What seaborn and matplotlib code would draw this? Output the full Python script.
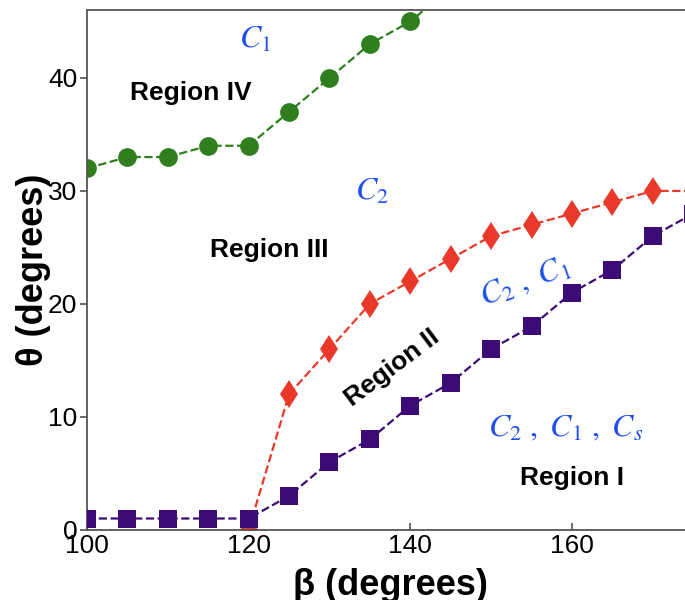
import matplotlib
matplotlib.use("Agg")
import matplotlib.pyplot as plt
import seaborn as sns
import pandas as pd

# Phase-boundary data: theta (degrees) vs beta (degrees)
beta_green = [100, 105, 110, 115, 120, 125, 130, 135, 140, 145]
theta_green = [32, 33, 33, 34, 34, 37, 40, 43, 45, 48]

beta_red = [120, 125, 130, 135, 140, 145, 150, 155, 160, 165, 170, 175]
theta_red = [0, 12, 16, 20, 22, 24, 26, 27, 28, 29, 30, 30]

beta_purple = [100, 105, 110, 115, 120, 125, 130, 135, 140, 145, 150, 155, 160, 165, 170, 175]
theta_purple = [1, 1, 1, 1, 1, 3, 6, 8, 11, 13, 16, 18, 21, 23, 26, 28]

x_ticks = [100, 120, 140, 160]
y_ticks = [0, 10, 20, 30, 40]

sns.set_theme(style="white")
plt.rcParams["font.family"] = ["Liberation Sans", "DejaVu Sans"]
plt.rcParams["mathtext.fontset"] = "stix"

fig = plt.figure(figsize=(6.85, 6.0), dpi=100)
ax = fig.add_axes([0.127, 0.117, 0.885, 0.866])

df_g = pd.DataFrame({"beta": beta_green, "theta": theta_green})
df_r = pd.DataFrame({"beta": beta_red, "theta": theta_red})
df_p = pd.DataFrame({"beta": beta_purple, "theta": theta_purple})

green = "#2f7f1f"
red = "#e8392b"
purple = "#3d0b78"

sns.lineplot(data=df_g, x="beta", y="theta", ax=ax, color=green, linestyle="--",
             linewidth=1.6, marker="o", markersize=13.5, markeredgewidth=0)
sns.lineplot(data=df_p, x="beta", y="theta", ax=ax, color=purple, linestyle="--",
             linewidth=1.6, marker="s", markersize=12.5, markeredgewidth=0)
sns.lineplot(data=df_r, x="beta", y="theta", ax=ax, color=red, linestyle="--",
             linewidth=1.6, marker="d", markersize=14.5, markeredgewidth=0)
# keep the purple plateau square on top of the red start point
ax.lines[-1].set_zorder(2)
ax.lines[1].set_zorder(3)

ax.set_xlim(100, 175)
ax.set_ylim(0, 46)
ax.set_xticks(x_ticks)
ax.set_yticks(y_ticks)
ax.tick_params(axis="both", which="major", labelsize=19, length=5, width=1.1,
               color="#444444", labelcolor="black", left=True, bottom=True)
ax.tick_params(axis="x", direction="in", pad=3)
ax.tick_params(axis="y", direction="out", pad=2)

for side, sp in ax.spines.items():
    sp.set_color("#555555")
    sp.set_linewidth(1.3)
ax.spines["right"].set_visible(False)

ax.set_xlabel("β (degrees)", fontsize=26, fontweight="bold", color="black", labelpad=7)
ax.set_ylabel("θ (degrees)", fontsize=26, fontweight="bold", color="black", labelpad=-2)

region_kw = dict(fontsize=19, fontweight="bold", color="black", ha="center", va="center")
ax.text(112.9, 38.7, "Region IV", **region_kw)
ax.text(122.5, 24.8, "Region III", **region_kw)
ax.text(137.7, 14.3, "Region II", rotation=37, **region_kw)
ax.text(160.0, 4.6, "Region I", **region_kw)

blue = "#1f4fe8"
math_kw = dict(fontsize=23, color=blue, ha="center", va="center")
ax.text(120.8, 43.4, r"$C_1$", **math_kw)
ax.text(135.3, 29.9, r"$C_2$", **math_kw)
ax.text(154.2, 21.9, r"$C_2\ ,\ C_1$", rotation=20, **math_kw)
ax.text(159.2, 9.0, r"$C_2\ ,\ C_1\ ,\ C_s$", **math_kw)

fig.savefig("out.png", dpi=100)
